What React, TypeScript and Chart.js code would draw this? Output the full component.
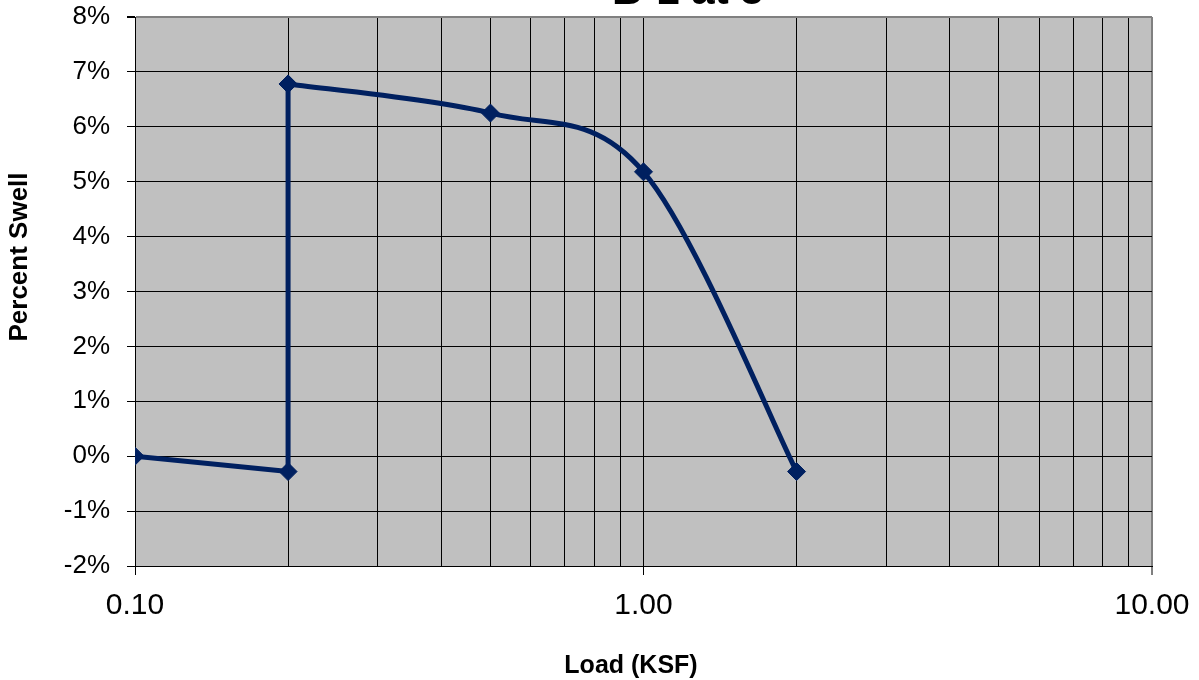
import React, { useEffect, useRef } from "react";
import { Chart, registerables } from "chart.js";

Chart.register(...registerables);

// ---- data ----
const titleText = "B-1 at 5'";
const xAxisTitle = "Load (KSF)";
const yAxisTitle = "Percent Swell";
const loads = [0.1, 0.2, 0.2, 0.5, 1.0, 2.0];
const swell = [0.0, -0.28, 6.78, 6.25, 5.18, -0.28];
const straightCount = 3; // first points joined by straight lines (incl. vertical rebound)
const xGridValues = [0.1, 0.2, 0.3, 0.4, 0.5, 0.6, 0.7, 0.8, 0.9, 1, 2, 3, 4, 5, 6, 7, 8, 9, 10];
const xLabelValues = [0.1, 1, 10];
const yMin = -2;
const yMax = 8;

const LINE = "#002060";
const FONT = "'Liberation Sans', Arial, sans-serif";

const bgPlugin = {
  id: "plotBg",
  beforeDraw(chart: any) {
    const { ctx, chartArea } = chart;
    ctx.save();
    ctx.fillStyle = "#C0C0C0";
    ctx.fillRect(chartArea.left, chartArea.top, chartArea.right - chartArea.left, chartArea.bottom - chartArea.top);
    ctx.restore();
  },
};

// Spreadsheet-style smoothing (Catmull-Rom, 1/6 of neighbour chord) for the smooth dataset
const smoothPlugin = {
  id: "smoothCurve",
  beforeDatasetDraw(chart: any, args: any) {
    const ds = chart.data.datasets[args.index];
    if (!ds.smooth) return;
    const meta = args.meta;
    const line = meta.dataset;
    if (line && line.updateControlPoints) line.updateControlPoints(chart.chartArea, "x");
    const pts = meta.data;
    const n = pts.length;
    for (let i = 0; i < n; i++) {
      const cur = pts[i];
      const prev = pts[i - 1] || cur;
      const next = pts[i + 1] || cur;
      const dx = (next.x - prev.x) / 6;
      const dy = (next.y - prev.y) / 6;
      cur.cp1x = cur.x - dx;
      cur.cp1y = cur.y - dy;
      cur.cp2x = cur.x + dx;
      cur.cp2y = cur.y + dy;
    }
    if (line) {
      line._pointsUpdated = true;
      line._path = undefined;
    }
  },
};

const textPlugin = {
  id: "texts",
  afterDraw(chart: any) {
    const { ctx } = chart;
    ctx.save();
    ctx.fillStyle = "#000";
    // main title (clipped at top)
    ctx.font = `bold 42px ${FONT}`;
    ctx.textAlign = "left";
    ctx.textBaseline = "alphabetic";
    ctx.fillText(titleText, 612, 4);
    // x title
    ctx.font = `bold 25px ${FONT}`;
    ctx.textAlign = "center";
    ctx.fillText(xAxisTitle, 631, 673);
    // y title
    ctx.translate(20, 257);
    ctx.rotate(-Math.PI / 2);
    ctx.font = `bold 26px ${FONT}`;
    ctx.textAlign = "center";
    ctx.textBaseline = "middle";
    ctx.fillText(yAxisTitle, 0, 0);
    ctx.restore();
  },
};

export default function App() {
  const ref = useRef<HTMLCanvasElement | null>(null);

  useEffect(() => {
    if (!ref.current) return;
    const pts = loads.map((x, i) => ({ x, y: swell[i] }));
    const common = {
      borderColor: LINE,
      backgroundColor: LINE,
      borderWidth: 5,
      pointStyle: "rectRot",
      pointRadius: 9,
      pointBorderWidth: 1,
      pointBackgroundColor: LINE,
      pointBorderColor: LINE,
      fill: false,
    };
    const chart = new Chart(ref.current, {
      type: "line",
      data: {
        datasets: [
          { ...common, label: "a", data: pts.slice(0, straightCount), tension: 0 },
          { ...common, label: "b", data: pts.slice(straightCount - 1), tension: 0.4, smooth: true, capBezierPoints: false },
        ] as any,
      },
      plugins: [bgPlugin, smoothPlugin, textPlugin],
      options: {
        animation: false,
        responsive: false,
        devicePixelRatio: 1,
        layout: { padding: { top: 17, right: 47, left: 0, bottom: 0 } },
        plugins: {
          legend: { display: false },
          title: { display: false },
          tooltip: { enabled: false },
        },
        scales: {
          x: {
            type: "logarithmic",
            min: 0.1,
            max: 10,
            afterBuildTicks: (scale: any) => {
              scale.ticks = xGridValues.map((v) => ({ value: v }));
            },
            afterFit: (scale: any) => {
              scale.height = 114;
              scale.paddingLeft = 0;
              scale.paddingRight = 0;
            },
            ticks: {
              autoSkip: false,
              maxRotation: 0,
              padding: 13,
              color: "#000",
              font: { size: 30, family: FONT },
              callback: (value: any) => {
                const v = Number(value);
                return xLabelValues.some((d) => Math.abs(d - v) < 1e-9) ? v.toFixed(2) : "";
              },
            },
            grid: {
              color: (c: any) => (c.tick && Math.abs(c.tick.value - 10) < 1e-9 ? "#808080" : "#000"),
              lineWidth: (c: any) => (c.tick && Math.abs(c.tick.value - 10) < 1e-9 ? 2 : 1),
              tickColor: (c: any) =>
                c.tick && xLabelValues.some((d) => Math.abs(d - c.tick.value) < 1e-9) ? "#000" : "rgba(0,0,0,0)",
              tickWidth: 1,
              tickLength: 9,
              drawTicks: true,
            },
            border: { display: true, color: "#000", width: 1 },
          },
          y: {
            type: "linear",
            min: yMin,
            max: yMax,
            afterFit: (scale: any) => {
              scale.width = 135;
              scale.paddingTop = 0;
              scale.paddingBottom = 0;
            },
            ticks: {
              stepSize: 1,
              padding: 17,
              color: "#000",
              font: { size: 26, family: FONT },
              callback: (value: any) => `${value}%`,
            },
            grid: {
              color: (c: any) => (c.tick && c.tick.value === yMax ? "#808080" : "#000"),
              lineWidth: (c: any) => (c.tick && c.tick.value === yMax ? 2 : 1),
              tickColor: "#000",
              tickLength: 8,
            },
            border: { display: true, color: "#000", width: 1 },
          },
        },
      } as any,
    });
    return () => chart.destroy();
  }, []);

  return (
    <div style={{ position: "absolute", left: 0, top: 0, width: 1199, height: 680, background: "#fff" }}>
      <canvas ref={ref} width={1199} height={680} style={{ width: 1199, height: 680, display: "block" }} />
    </div>
  );
}
